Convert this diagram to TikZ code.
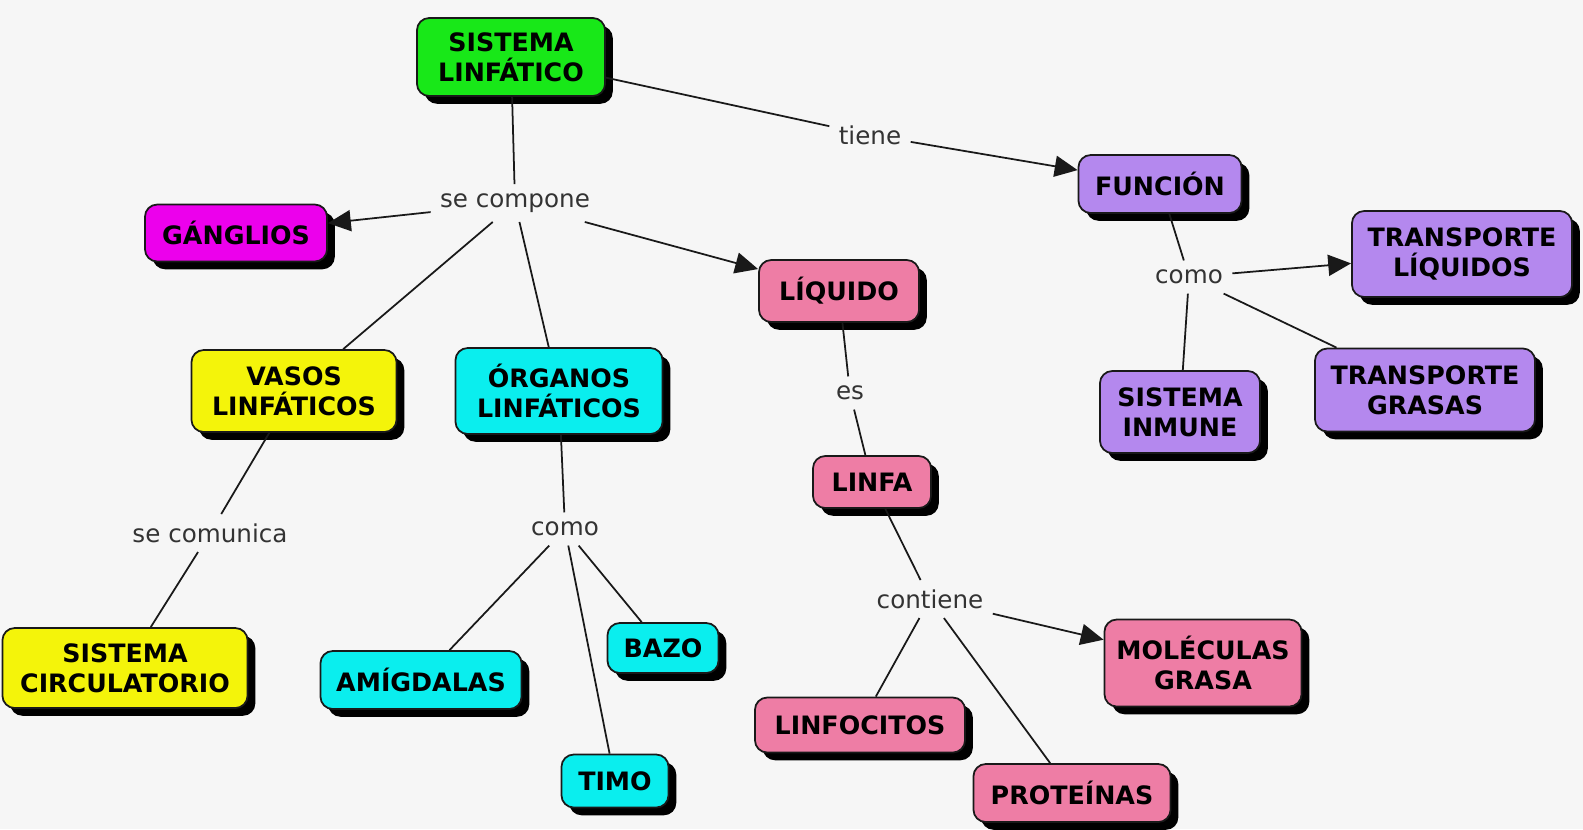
\documentclass[tikz,border=0pt]{standalone}
\usepackage{fontspec}
\setmainfont{DejaVu Sans}
\usetikzlibrary{arrows.meta,shadows}
\definecolor{bgc}{RGB}{246,246,246}
\definecolor{cgreen}{RGB}{24,232,24}
\definecolor{cmag}{RGB}{236,0,236}
\definecolor{cyel}{RGB}{244,244,10}
\definecolor{ccyan}{RGB}{10,238,238}
\definecolor{cpink}{RGB}{238,125,165}
\definecolor{cpurp}{RGB}{180,136,238}
\tikzset{
  box/.style={rounded corners=3.5pt, draw=black!90, line width=0.5pt, fill=#1,
    align=center, font=\bfseries\fontsize{7.2}{8.6}\selectfont, text=black, inner sep=0pt,
    drop shadow={fill=black, opacity=1, shadow xshift=2.2pt, shadow yshift=-2.2pt}},
  lbl/.style={font=\fontsize{7}{8}\selectfont, text=black!80, inner sep=2.5pt},
  conn/.style={draw=black!90, line width=0.5pt},
  arr/.style={conn, -{Triangle[length=6.5pt,width=6pt]}},
}
\begin{document}
\begin{tikzpicture}[x=0.01cm, y=-0.01cm]
\fill[bgc] (0,0) rectangle (1583,829);
\useasboundingbox (0,0) rectangle (1583,829);
% boxes
\node[box=cgreen, minimum width=1.88cm, minimum height=0.78cm] (sl) at (511,57) {SISTEMA\\LINFÁTICO};
\node[box=cmag, minimum width=1.82cm, minimum height=0.57cm] (gang) at (236,233) {GÁNGLIOS};
\node[box=cpink, minimum width=1.60cm, minimum height=0.62cm] (liq) at (839,291) {LÍQUIDO};
\node[box=cyel, minimum width=2.05cm, minimum height=0.82cm] (vasos) at (294,391) {VASOS\\LINFÁTICOS};
\node[box=ccyan, minimum width=2.07cm, minimum height=0.86cm] (org) at (559,391) {ÓRGANOS\\LINFÁTICOS};
\node[box=cpurp, minimum width=1.63cm, minimum height=0.58cm] (func) at (1160,184) {FUNCIÓN};
\node[box=cpurp, minimum width=2.20cm, minimum height=0.86cm] (tl) at (1462,254) {TRANSPORTE\\LÍQUIDOS};
\node[box=cpurp, minimum width=1.60cm, minimum height=0.82cm] (si) at (1180,412) {SISTEMA\\INMUNE};
\node[box=cpurp, minimum width=2.20cm, minimum height=0.83cm] (tg) at (1425,390) {TRANSPORTE\\GRASAS};
\node[box=cpink, minimum width=1.18cm, minimum height=0.52cm] (linfa) at (872,482) {LINFA};
\node[box=cpink, minimum width=1.97cm, minimum height=0.87cm] (mol) at (1203,663) {MOLÉCULAS\\GRASA};
\node[box=cpink, minimum width=2.10cm, minimum height=0.55cm] (linfoc) at (860,725) {LINFOCITOS};
\node[box=cpink, minimum width=1.97cm, minimum height=0.58cm] (prot) at (1072,793) {PROTEÍNAS};
\node[box=cyel, minimum width=2.45cm, minimum height=0.80cm] (sc) at (125,668) {SISTEMA\\CIRCULATORIO};
\node[box=ccyan, minimum width=2.01cm, minimum height=0.58cm] (amig) at (421,680) {AMÍGDALAS};
\node[box=ccyan, minimum width=1.11cm, minimum height=0.50cm] (bazo) at (663,648) {BAZO};
\node[box=ccyan, minimum width=1.07cm, minimum height=0.53cm] (timo) at (615,781) {TIMO};
% labels
\node[lbl] (tiene) at (870,135) {tiene};
\node[lbl] (secomp) at (515,203) {se compone};
\node[lbl] (secom) at (210,533) {se comunica};
\node[lbl] (como1) at (565,529) {como};
\node[lbl] (es) at (850,393) {es};
\node[lbl] (cont) at (930,599) {contiene};
\node[lbl] (como2) at (1189,277) {como};
% connectors
\draw[conn] (sl) -- (tiene);
\draw[arr] (tiene) -- (func);
\draw[conn] (sl) -- (secomp);
\draw[arr] (secomp) -- (gang);
\draw[arr] (secomp) -- (liq);
\draw[conn] (secomp) -- (vasos);
\draw[conn] (secomp) -- (org);
\draw[conn] (vasos) -- (secom);
\draw[conn] (secom) -- (sc);
\draw[conn] (org) -- (como1);
\draw[conn] (como1) -- (amig);
\draw[conn] (como1) -- (timo);
\draw[conn] (como1) -- (bazo);
\draw[conn] (liq) -- (es);
\draw[conn] (es) -- (linfa);
\draw[conn] (linfa) -- (cont);
\draw[conn] (cont) -- (linfoc);
\draw[conn] (cont) -- (prot);
\draw[arr] (cont) -- (mol);
\draw[conn] (func) -- (como2);
\draw[arr] (como2) -- (tl);
\draw[conn] (como2) -- (si);
\draw[conn] (como2) -- (tg);
\end{tikzpicture}
\end{document}
